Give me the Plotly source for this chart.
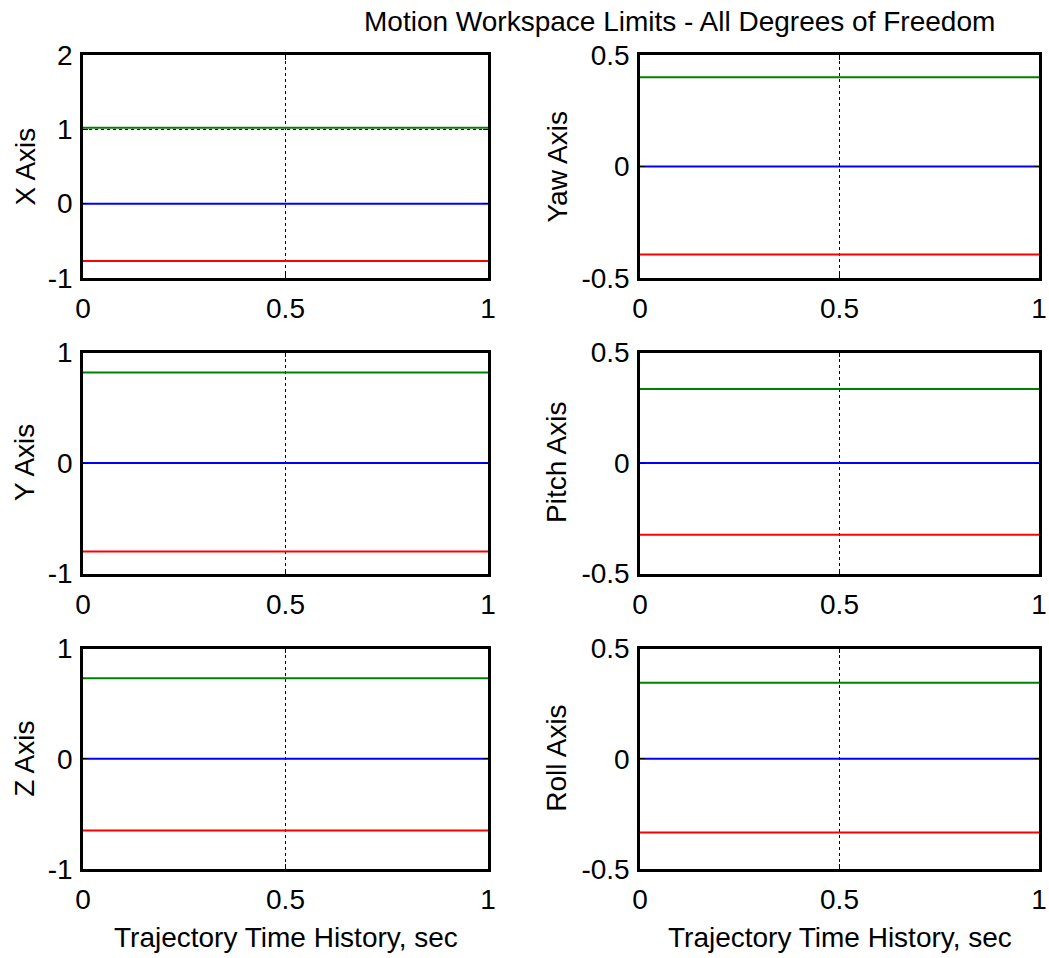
import plotly.graph_objects as go

# ---- data ----
time = [0, 1]
axis_names = ["X Axis", "Yaw Axis", "Y Axis", "Pitch Axis", "Z Axis", "Roll Axis"]
upper_limit = [1.02, 0.40, 0.82, 0.335, 0.73, 0.345]
center_value = [0, 0, 0, 0, 0, 0]
lower_limit = [-0.77, -0.395, -0.80, -0.325, -0.65, -0.335]
y_ranges = [[-1, 2], [-0.5, 0.5], [-1, 1], [-0.5, 0.5], [-1, 1], [-0.5, 0.5]]
y_tickvals = [[-1, 0, 1, 2], [-0.5, 0, 0.5], [-1, 0, 1], [-0.5, 0, 0.5], [-1, 0, 1], [-0.5, 0, 0.5]]
y_ticktext = [["-1", "0", "1", "2"], ["-0.5", "0", "0.5"], ["-1", "0", "1"],
              ["-0.5", "0", "0.5"], ["-1", "0", "1"], ["-0.5", "0", "0.5"]]
x_tickvals = [0, 0.5, 1]
x_ticktext = ["0", "0.5", "1"]
title_text = "Motion Workspace Limits - All Degrees of Freedom"
x_title = "Trajectory Time History, sec"

# ---- layout geometry ----
W, H = 1049, 958
col_px = [(83, 488), (640, 1039)]
row_px = [(55, 278), (352.5, 573.5), (648.5, 869)]
FONT = "Liberation Sans, Arial, sans-serif"
FS = 28

fig = go.Figure()
annotations = []
for i in range(6):
    r, c = divmod(i, 2)
    ax = "" if i == 0 else str(i + 1)
    xd = [col_px[c][0] / W, col_px[c][1] / W]
    yd = [1 - row_px[r][1] / H, 1 - row_px[r][0] / H]
    for vals, color in ((upper_limit, "#008000"), (center_value, "#0000FF"), (lower_limit, "#FF0000")):
        fig.add_trace(go.Scatter(x=time, y=[vals[i], vals[i]], mode="lines",
                                 line=dict(color=color, width=2),
                                 xaxis="x" + ax, yaxis="y" + ax, showlegend=False,
                                 hoverinfo="skip"))
    common = dict(showline=True, linecolor="black", linewidth=2.5, mirror="allticks",
                  ticks="inside", ticklen=5, tickcolor="black", tickwidth=1,
                  showgrid=True, gridcolor="black", gridwidth=1, griddash="dot",
                  zeroline=False, automargin=False, ticklabeloverflow="allow",
                  tickfont=dict(family=FONT, size=FS, color="black"))
    fig.update_layout(**{
        "xaxis" + ax: dict(domain=xd, range=[0, 1], tickvals=x_tickvals, ticktext=x_ticktext,
                           anchor="y" + ax, ticklabelstandoff=4, **common),
        "yaxis" + ax: dict(domain=yd, range=y_ranges[i], tickvals=y_tickvals[i],
                           ticktext=y_ticktext[i], anchor="x" + ax, ticklabelstandoff=2, **common),
    })
    # y-axis label
    lx = 25 if c == 0 else 557
    annotations.append(dict(text=axis_names[i], x=lx / W, y=(yd[0] + yd[1]) / 2,
                            xref="paper", yref="paper", textangle=-90, showarrow=False,
                            xanchor="center", yanchor="middle",
                            font=dict(family=FONT, size=FS, color="black")))
    if r == 2:
        annotations.append(dict(text=x_title, x=(xd[0] + xd[1]) / 2, y=1 - 937 / H,
                                xref="paper", yref="paper", showarrow=False,
                                xanchor="center", yanchor="middle",
                                font=dict(family=FONT, size=FS, color="black")))

annotations.append(dict(text=title_text, x=679 / W, y=1 - 21 / H, xref="paper", yref="paper",
                        showarrow=False, xanchor="center", yanchor="middle",
                        font=dict(family=FONT, size=FS, color="black")))

fig.update_layout(width=W, height=H,
                  margin=dict(l=0, r=0, t=0, b=0, pad=0, autoexpand=False),
                  paper_bgcolor="white", plot_bgcolor="white",
                  annotations=annotations, showlegend=False)

fig.write_html("out.html",
               post_script="document.body.style.margin='0';document.body.style.overflow='hidden';")
